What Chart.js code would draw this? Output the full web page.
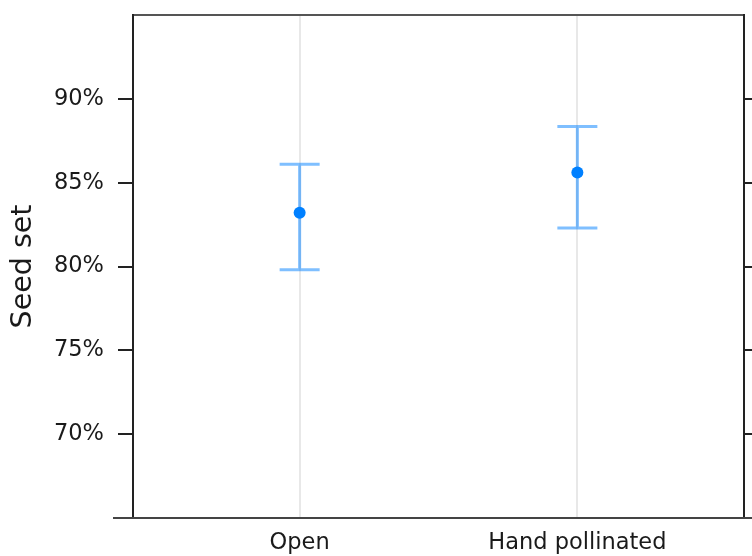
<!DOCTYPE html>
<html lang="en">
<head>
    <meta charset="UTF-8">
    <title>Seed set</title>
    <script src="https://cdn.jsdelivr.net/npm/chart.js"></script>
    <style>
        html, body { margin: 0; padding: 0; background: #fff; }
        canvas { display: block; }
    </style>
</head>
<body>
    <canvas id="seedChart" width="752" height="556"></canvas>

    <script>
        // Data
        const categories = ['Open', 'Hand pollinated'];
        const seedSet = [83.2, 85.6];
        const lowerCI = [79.8, 82.3];
        const upperCI = [86.1, 88.35];
        const yTicks = [70, 75, 80, 85, 90];

        const font = 'DejaVu Sans, Liberation Sans, Arial, sans-serif';

        // error bars: whiskers + caps drawn through the scales
        const errorBars = {
            id: 'errorBars',
            beforeDatasetsDraw(chart) {
                const { ctx, scales: { x, y } } = chart;
                ctx.save();
                ctx.strokeStyle = 'rgba(0, 128, 255, 0.5)';
                ctx.lineWidth = 3;
                categories.forEach((c, i) => {
                    const px = x.getPixelForValue(i + 1);
                    const top = y.getPixelForValue(upperCI[i]);
                    const bot = y.getPixelForValue(lowerCI[i]);
                    ctx.beginPath();
                    ctx.moveTo(px, top);
                    ctx.lineTo(px, bot);
                    ctx.moveTo(px - 20, top);
                    ctx.lineTo(px + 20, top);
                    ctx.moveTo(px - 20, bot);
                    ctx.lineTo(px + 20, bot);
                    ctx.stroke();
                });
                ctx.restore();
            }
        };

        // bottom axis line runs past the box on both sides
        const baseLine = {
            id: 'baseLine',
            afterDraw(chart) {
                const { ctx, chartArea: a } = chart;
                ctx.save();
                ctx.strokeStyle = '#444';
                ctx.lineWidth = 2;
                ctx.beginPath();
                ctx.moveTo(a.left - 20, a.bottom);
                ctx.lineTo(chart.width, a.bottom);
                ctx.stroke();
                ctx.restore();
            }
        };

        const noPad = s => { s.paddingTop = 0; s.paddingBottom = 0; s.paddingLeft = 0; s.paddingRight = 0; };

        new Chart(document.getElementById('seedChart'), {
            type: 'scatter',
            data: {
                datasets: [{
                    data: seedSet.map((v, i) => ({ x: i + 1, y: v })),
                    backgroundColor: '#0080ff',
                    borderWidth: 0,
                    pointRadius: 6,
                    pointHoverRadius: 6
                }]
            },
            options: {
                responsive: false,
                animation: false,
                layout: { padding: { top: 15, left: 0, right: 0, bottom: 0 } },
                plugins: { legend: { display: false }, tooltip: { enabled: false } },
                scales: {
                    x: {
                        type: 'linear',
                        min: 0.4,
                        max: 2.6,
                        afterBuildTicks: s => { s.ticks = categories.map((c, i) => ({ value: i + 1 })); },
                        afterFit: s => { s.height = 38; noPad(s); },
                        grid: { color: '#e8e8e8', lineWidth: 2, drawTicks: false },
                        border: { color: '#444', width: 2 },
                        ticks: {
                            padding: 12,
                            color: '#1a1a1a',
                            font: { family: font, size: 22.5 },
                            callback: v => categories[v - 1]
                        }
                    },
                    xTop: {
                        type: 'linear',
                        position: 'top',
                        min: 0.4,
                        max: 2.6,
                        afterFit: s => { s.height = 0; noPad(s); },
                        grid: { display: false },
                        border: { color: '#555', width: 2 },
                        ticks: { display: false }
                    },
                    y: {
                        min: 65,
                        max: 95,
                        afterBuildTicks: s => { s.ticks = yTicks.map(v => ({ value: v })); },
                        afterFit: s => { s.width = 133; noPad(s); },
                        grid: { drawOnChartArea: false, tickLength: 15, color: '#222', lineWidth: 2 },
                        border: { color: '#222', width: 2 },
                        ticks: {
                            padding: 14,
                            color: '#1a1a1a',
                            font: { family: font, size: 22.5 },
                            callback: v => v + '%'
                        },
                        title: {
                            display: true,
                            text: 'Seed set',
                            color: '#1a1a1a',
                            font: { family: font, size: 28.5 },
                            padding: { top: 6, bottom: 0 }
                        }
                    },
                    yRight: {
                        position: 'right',
                        min: 65,
                        max: 95,
                        afterBuildTicks: s => { s.ticks = yTicks.map(v => ({ value: v })); },
                        afterFit: s => { s.width = 8; noPad(s); },
                        grid: { drawOnChartArea: false, tickLength: 8, color: '#222', lineWidth: 2 },
                        border: { color: '#222', width: 2 },
                        ticks: { display: false }
                    }
                }
            },
            plugins: [errorBars, baseLine]
        });
    </script>
</body>
</html>
